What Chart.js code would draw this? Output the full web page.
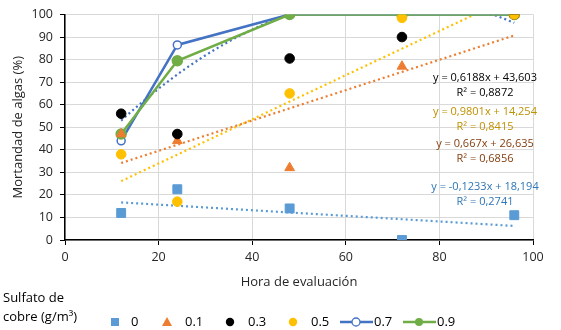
<!DOCTYPE html>
<html>
<head>
<meta charset="utf-8">
<script src="https://cdn.jsdelivr.net/npm/chart.js@4"></script>
<style>
  html, body { margin: 0; padding: 0; background: #fff; }
  #wrap { width: 561px; height: 330px; }
</style>
</head>
<body>
<div id="wrap"><canvas id="mortandad" width="561" height="330"></canvas></div>
<script>
const horas = [12, 24, 48, 72, 96];
const dosis = ['0', '0.1', '0.3', '0.5', '0.7', '0.9'];
const mort0 = [12, 22.5, 14, 0, 11];
const mort01 = [47, 44, 32, 77, 100];
const mort03 = [56, 47, 80.5, 90, 100];
const mort05 = [38, 17, 65, 98.5, 100];
const mort07 = [44, 86.5, 100, 100, 100];
const mort09 = [47, 79.5, 100, 100, 100];
const xTicks = [0, 20, 40, 60, 80, 100];
const yTicks = [0, 10, 20, 30, 40, 50, 60, 70, 80, 90, 100];

const ecuaciones = [
  { text: ['y = 0,6188x + 43,603', 'R² = 0,8872'], color: '#000000', y: [78, 93] },
  { text: ['y = 0,9801x + 14,254', 'R² = 0,8415'], color: '#BF9000', y: [112, 127] },
  { text: ['y = 0,667x + 26,635', 'R² = 0,6856'], color: '#843C0C', y: [144, 159] },
  { text: ['y = -0,1233x + 18,194', 'R² = 0,2741'], color: '#2E75B6', y: [187, 202] }
];

const FONT = "'Open Sans', 'Noto Sans', sans-serif";

function pts(ys) {
  return horas.map((h, i) => ({ x: h, y: ys[i] }));
}

// least squares polynomial fit, returns coefficients c0..cn
function polyFit(xs, ys, order) {
  const n = order + 1;
  const A = [];
  for (let r = 0; r < n; r++) {
    A.push([]);
    for (let c = 0; c < n; c++) {
      let s = 0;
      xs.forEach(x => { s += Math.pow(x, r + c); });
      A[r].push(s);
    }
    let s = 0;
    xs.forEach((x, i) => { s += Math.pow(x, r) * ys[i]; });
    A[r].push(s);
  }
  for (let i = 0; i < n; i++) {
    let p = i;
    for (let k = i + 1; k < n; k++) if (Math.abs(A[k][i]) > Math.abs(A[p][i])) p = k;
    [A[i], A[p]] = [A[p], A[i]];
    for (let k = i + 1; k < n; k++) {
      const f = A[k][i] / A[i][i];
      for (let j = i; j <= n; j++) A[k][j] -= f * A[i][j];
    }
  }
  const c = new Array(n).fill(0);
  for (let i = n - 1; i >= 0; i--) {
    let s = A[i][n];
    for (let j = i + 1; j < n; j++) s -= A[i][j] * c[j];
    c[i] = s / A[i][i];
  }
  return c;
}

function trend(ys, order) {
  const c = polyFit(horas, ys, order);
  const out = [];
  const x0 = horas[0], x1 = horas[horas.length - 1];
  const steps = order === 1 ? 1 : 40;
  for (let k = 0; k <= steps; k++) {
    const x = x0 + (x1 - x0) * k / steps;
    let y = 0;
    c.forEach((ci, i) => { y += ci * Math.pow(x, i); });
    out.push({ x: x, y: y });
  }
  return out;
}

function trendSet(ys, order, color) {
  return {
    type: 'line', data: trend(ys, order), borderColor: color, borderWidth: 2.2,
    borderDash: [2, 3], pointRadius: 0, fill: false, tension: 0, order: 20
  };
}

const datasets = [
  { label: dosis[0], data: pts(mort0), backgroundColor: '#5B9BD5', borderColor: '#5B9BD5',
    pointStyle: 'rect', pointRadius: 6.3, order: 4 },
  { label: dosis[1], data: pts(mort01), backgroundColor: '#ED7D31', borderColor: '#ED7D31',
    pointStyle: 'triangle', pointRadius: 5.6, order: 3 },
  { label: dosis[2], data: pts(mort03), backgroundColor: '#000000', borderColor: '#000000',
    pointStyle: 'circle', pointRadius: 4.8, order: 2 },
  { label: dosis[3], data: pts(mort05), backgroundColor: '#FFC000', borderColor: '#FFC000',
    pointStyle: 'circle', pointRadius: 4.8, order: 1 },
  { label: dosis[4], data: pts(mort07), type: 'line', showLine: true, borderColor: '#4472C4',
    backgroundColor: '#ffffff', borderWidth: 2.5, pointBorderWidth: 1.5, pointRadius: 4,
    pointStyle: 'circle', tension: 0, order: 10 },
  { label: dosis[5], data: pts(mort09), type: 'line', showLine: true, borderColor: '#70AD47',
    backgroundColor: '#70AD47', borderWidth: 2.5, pointRadius: 4.5, pointStyle: 'circle',
    tension: 0, order: 9 },
  trendSet(mort0, 1, '#5B9BD5'),
  trendSet(mort01, 1, '#ED7D31'),
  trendSet(mort05, 1, '#FFC000'),
  trendSet(mort07, 2, '#4472C4')
];

const extras = {
  id: 'extras',
  afterDraw(chart) {
    const ctx = chart.ctx;
    ctx.save();
    // trend equations
    ctx.font = '11px ' + FONT;
    ctx.textAlign = 'center';
    ctx.textBaseline = 'middle';
    ecuaciones.forEach(e => {
      ctx.fillStyle = e.color;
      ctx.fillText(e.text[0], 485, e.y[0]);
      ctx.fillText(e.text[1], 485, e.y[1]);
    });
    // legend
    ctx.font = '13px ' + FONT;
    ctx.textAlign = 'left';
    ctx.fillStyle = '#000';
    ctx.fillText('Sulfato de', 3, 298);
    ctx.fillText('cobre (g/m³)', 3, 317);
    const ly = 322;
    const items = [
      { kind: 'rect', c: '#5B9BD5', mx: 115, tx: 131 },
      { kind: 'tri', c: '#ED7D31', mx: 167, tx: 185 },
      { kind: 'dot', c: '#000000', mx: 230, tx: 248 },
      { kind: 'dot', c: '#FFC000', mx: 293, tx: 311 },
      { kind: 'open', c: '#4472C4', mx: 356, tx: 374 },
      { kind: 'line', c: '#70AD47', mx: 419, tx: 437 }
    ];
    items.forEach((it, i) => {
      ctx.fillStyle = it.c;
      ctx.strokeStyle = it.c;
      if (it.kind === 'rect') {
        ctx.fillRect(it.mx - 4, ly - 4, 8, 8);
      } else if (it.kind === 'tri') {
        ctx.beginPath();
        ctx.moveTo(it.mx, ly - 5);
        ctx.lineTo(it.mx + 5, ly + 4);
        ctx.lineTo(it.mx - 5, ly + 4);
        ctx.closePath();
        ctx.fill();
      } else if (it.kind === 'dot') {
        ctx.beginPath();
        ctx.arc(it.mx, ly, 4.2, 0, Math.PI * 2);
        ctx.fill();
      } else {
        ctx.lineWidth = 2.5;
        ctx.beginPath();
        ctx.moveTo(it.mx - 16, ly);
        ctx.lineTo(it.mx + 17, ly);
        ctx.stroke();
        ctx.beginPath();
        ctx.arc(it.mx, ly, 4, 0, Math.PI * 2);
        if (it.kind === 'open') {
          ctx.fillStyle = '#fff';
          ctx.fill();
          ctx.lineWidth = 1.3;
          ctx.stroke();
        } else {
          ctx.fill();
        }
      }
      ctx.fillStyle = '#000';
      ctx.fillText(dosis[i], it.tx, ly);
    });
    ctx.restore();
  }
};

new Chart(document.getElementById('mortandad'), {
  type: 'scatter',
  data: { datasets: datasets },
  options: {
    responsive: false,
    animation: false,
    layout: { padding: { top: 14, right: 28, bottom: 38, left: 0 } },
    plugins: { legend: { display: false }, tooltip: { enabled: false } },
    scales: {
      x: {
        type: 'linear', min: 0, max: 100,
        afterBuildTicks: s => { s.ticks = xTicks.map(v => ({ value: v })); },
        afterFit: s => { s.height = 52; },
        grid: { color: '#D9D9D9', tickColor: '#000', tickLength: 5, lineWidth: 1 },
        border: { color: '#000', width: 1.5 },
        ticks: { color: '#262626', font: { family: FONT, size: 12.5 }, padding: 5 },
        title: { display: true, text: 'Hora de evaluación', color: '#262626',
          font: { family: FONT, size: 13 }, padding: { top: 2, bottom: 2 } }
      },
      y: {
        type: 'linear', min: 0, max: 100,
        afterBuildTicks: s => { s.ticks = yTicks.map(v => ({ value: v })); },
        afterFit: s => { s.width = 65; },
        grid: { color: '#D9D9D9', tickColor: '#000', tickLength: 5, lineWidth: 1 },
        border: { color: '#000', width: 1.5 },
        ticks: { color: '#262626', font: { family: FONT, size: 12.5 }, padding: 7 },
        title: { display: true, text: 'Mortandad de algas (%)', color: '#262626',
          font: { family: FONT, size: 13 }, padding: { top: 10, bottom: 4 } }
      }
    }
  },
  plugins: [extras]
});
</script>
</body>
</html>
